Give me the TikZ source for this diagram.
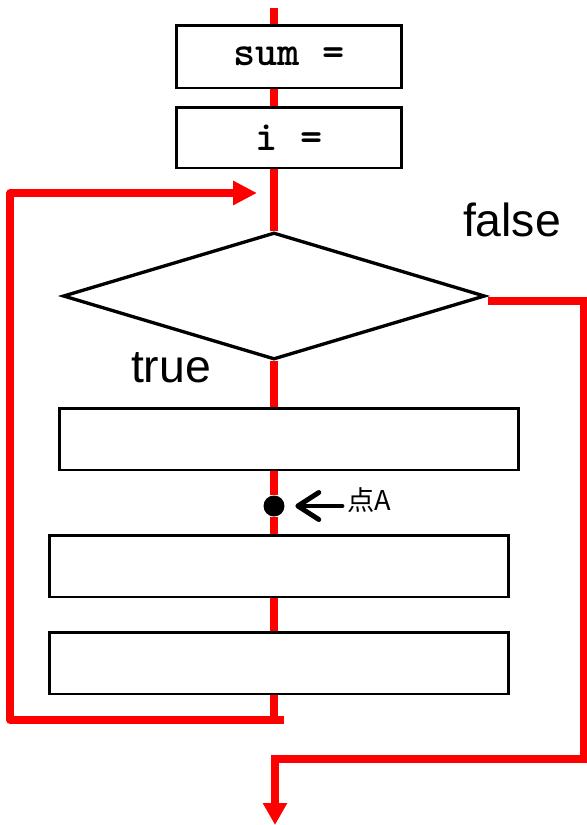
\documentclass[tikz,border=0pt]{standalone}
\usepackage{fontspec}
\setmainfont{Liberation Sans}
\newfontfamily\cjk{Noto Sans CJK JP}
\usetikzlibrary{shapes.geometric,arrows.meta}
\begin{document}
\begin{tikzpicture}[x=0.02cm,y=-0.02cm,
    box/.style={draw,line width=1.7pt,fill=white,minimum width=9.2cm,minimum height=1.24cm,inner sep=0pt},
    flow/.style={red,line width=4pt},
    code/.style={font=\ttfamily\bfseries\fontsize{24}{26}\selectfont},
    lbl/.style={inner sep=0pt,font=\fontsize{26.4}{30}\selectfont}]
    \useasboundingbox (0,0) rectangle (587,825);
    % boxes and decision
    \node[box,minimum width=4.5cm,minimum height=1.26cm,code] (sum) at (289,56.5) {sum =};
    \node[box,minimum width=4.5cm,minimum height=1.22cm,code] (init) at (289,137.5) {i =};
    \node[diamond,draw,line width=1.9pt,fill=white,inner sep=0pt,aspect=3.3,
          minimum width=8.44cm,minimum height=2.54cm] (cond) at (274,296) {};
    \node[box] (body) at (289,439) {};
    \node[box] (next) at (279,566) {};
    \node[box] (last) at (279,663) {};
    \node[lbl] (false) at (512,220) {false};
    \node[lbl] (true) at (171,368) {true};
    % main line
    \coordinate (top) at (274,8);
    \draw[flow] (top) -- (top |- sum.north);
    \draw[flow] (top |- sum.south) -- (top |- init.north);
    \draw[flow] (top |- init.south) -- (cond.north);
    \draw[flow] (cond.south) -- (top |- body.north);
    \node[circle,fill,inner sep=0pt,minimum size=0.42cm] (dot) at (274,506) {};
    \draw[flow] (top |- body.south) -- (dot.north);
    \draw[flow] (dot.south) -- (top |- next.north);
    \draw[flow] (top |- next.south) -- (top |- last.north);
    % loop back
    \coordinate (loopend) at (284,720);
    \coordinate (loopin) at (257,193);
    \draw[flow] (top |- last.south) -- (top |- loopend);
    \draw[flow,line join=round,-{Triangle[length=0.48cm,width=0.46cm]}]
        (loopend) -- (10,720) -- (10,193) -- (loopin);
    % exit
    \coordinate (out) at (488,301);
    \coordinate (exit) at (275,825);
    \draw[flow,-{Triangle[length=0.44cm,width=0.46cm]}]
        (out) -- (583.5,301) -- (583.5,759) -- (275,759) -- (exit);
    % point A
    \node[anchor=west,inner sep=0pt,font=\cjk\fontsize{15.5}{18}\selectfont] (ptA) at (347,500) {点A};
    \draw[line width=2.8pt,line cap=round,-{Straight Barb[length=0.42cm,width=0.54cm,round]}]
        ([xshift=-0.1cm]ptA.west |- dot) -- ([xshift=0.21cm]dot.east);
\end{tikzpicture}
\end{document}
